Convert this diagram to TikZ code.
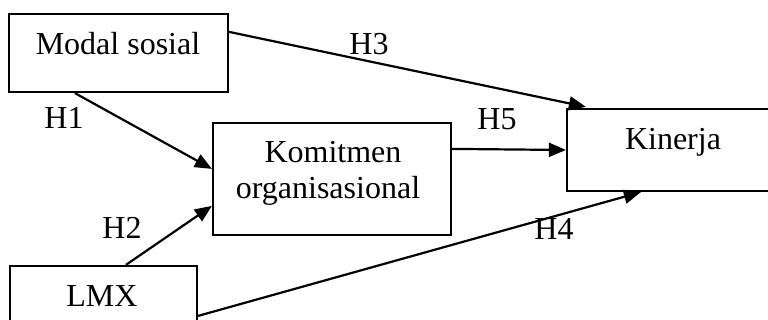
\documentclass[tikz,border=0pt]{standalone}
\usepackage{fontspec}
\setmainfont{Liberation Serif}
\usetikzlibrary{arrows.meta,calc}
\tikzset{
  box/.style={draw=black, line width=1.1pt, rectangle, inner sep=0pt},
  txt/.style={anchor=base, inner sep=0pt, font=\fontsize{16}{19}\selectfont},
  conn/.style={line width=1.1pt, -{Triangle[length=8.5pt,width=7pt]}}
}
\begin{document}
\begin{tikzpicture}[x=0.5pt,y=-0.5pt]
\useasboundingbox (0,0) rectangle (768,320);
\clip (0,0) rectangle (768,320);
\fill[white] (0,0) rectangle (768,320);
% boxes
\node[box, minimum width=109.5pt, minimum height=39pt] (ms) at (118.5,53) {};
\node[box, minimum width=119pt, minimum height=56pt] (kom) at (332,179) {};
\node[box, minimum width=111.5pt, minimum height=41pt] (kin) at (678.5,150) {};
\node[box, minimum width=93.5pt, minimum height=37pt] (lmx) at (103.5,303) {};
% texts
\node[txt] (tms) at (118,55) {Modal sosial};
\node[txt] (tkom1) at (333,163) {Komitmen};
\node[txt] (tkom2) at (328,199) {organisasional};
\node[txt] (tkin) at (673,150) {Kinerja};
\node[txt] (tlmx) at (102,307) {LMX};
% connectors
\draw[conn] ($(ms.north east)+(0,19)$) -- ($(kin.north west)+(20,-1)$);
\draw[conn] ($(ms.south west)+(67,0)$) -- ($(kom.north west)+(0,47)$);
\draw[conn] ($(kom.north east)+(0,27)$) -- (kin.west);
\draw[conn] ($(lmx.north west)+(117,0)$) -- ($(kom.north west)+(0,84)$);
\draw[conn] ($(lmx.north east)+(0,51)$) -- ($(kin.south west)+(75,0)$);
% labels
\node[txt] (h3) at (369,55) {H3};
\node[txt] (h1) at (64,129) {H1};
\node[txt] (h5) at (497,130) {H5};
\node[txt] (h2) at (122,239) {H2};
\node[txt] (h4) at (554,240) {H4};
\end{tikzpicture}
\end{document}
